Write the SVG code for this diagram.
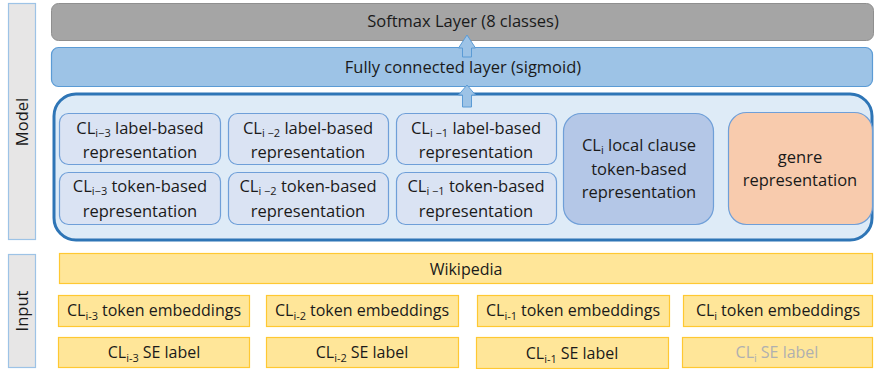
<svg xmlns="http://www.w3.org/2000/svg" width="874" height="369" viewBox="0 0 874 369">
<defs>
<style>
text{font-family:"Open Sans","Noto Sans","Liberation Sans",sans-serif;fill:#1a1a1a;text-anchor:middle}
.t16{font-size:16.5px}
.ty{font-size:16px}
.sub{font-size:11px}
.side{fill:#e7e6e6;stroke:#9dc3e6;stroke-width:1.2}
.small{fill:#dae3f3;stroke:#6f9fd8;stroke-width:1.2}
.yel{fill:#ffe699;stroke:#ffc832;stroke-width:1.2}
.arrow{fill:#9dc3e6;stroke:#5b9bd5;stroke-width:1}
</style>
</defs>
<rect width="874" height="369" fill="#ffffff"/>

<g id="model-label">
<rect class="side" x="8.5" y="3.5" width="27" height="236"/>
<text class="t16" transform="translate(28,122) rotate(-90)">Model</text>
</g>
<g id="input-label">
<rect class="side" x="8.5" y="254.5" width="27" height="113"/>
<text class="t16" transform="translate(28,311) rotate(-90)">Input</text>
</g>

<g id="softmax">
<rect x="51.5" y="3.5" width="822" height="37" rx="7" fill="#a5a5a5" stroke="#8f8f8f" stroke-width="1"/>
<text class="t16" x="463" y="27">Softmax Layer (8 classes)</text>
</g>
<g id="fc">
<rect x="51.5" y="47.5" width="821" height="39" rx="7" fill="#9dc3e6" stroke="#5b9bd5" stroke-width="1.2"/>
<text class="t16" x="463" y="73">Fully connected layer (sigmoid)</text>
</g>

<g id="model-container">
<rect x="54" y="94" width="818" height="146" rx="22" fill="#deebf7" stroke="#2e75b6" stroke-width="3"/>
</g>

<g id="connectors">
<path class="arrow" d="M467,35 L475.5,48 L471.5,48 L471.5,57 L462.5,57 L462.5,48 L458.5,48 Z"/>
<path class="arrow" d="M467,85 L475.5,95 L471.5,95 L471.5,107 L462.5,107 L462.5,95 L458.5,95 Z"/>
</g>

<g id="cl3-label">
<rect class="small" x="59.5" y="113.5" width="161" height="51" rx="9"/>
<text class="t16" x="140" y="134">CL<tspan class="sub" dy="3">i−3</tspan><tspan dy="-3"> label-based</tspan></text>
<text class="t16" x="140" y="158">representation</text>
</g>
<g id="cl2-label">
<rect class="small" x="228.5" y="113.5" width="160" height="51" rx="9"/>
<text class="t16" x="308" y="134">CL<tspan class="sub" dy="3">i −2</tspan><tspan dy="-3"> label-based</tspan></text>
<text class="t16" x="308" y="158">representation</text>
</g>
<g id="cl1-label">
<rect class="small" x="396.5" y="113.5" width="160" height="51" rx="9"/>
<text class="t16" x="476" y="134">CL<tspan class="sub" dy="3">i −1</tspan><tspan dy="-3"> label-based</tspan></text>
<text class="t16" x="476" y="158">representation</text>
</g>
<g id="cl3-token">
<rect class="small" x="59.5" y="172.5" width="161" height="52" rx="9"/>
<text class="t16" x="140" y="192">CL<tspan class="sub" dy="3">i−3</tspan><tspan dy="-3"> token-based</tspan></text>
<text class="t16" x="140" y="217">representation</text>
</g>
<g id="cl2-token">
<rect class="small" x="228.5" y="172.5" width="160" height="52" rx="9"/>
<text class="t16" x="308" y="192">CL<tspan class="sub" dy="3">i −2</tspan><tspan dy="-3"> token-based</tspan></text>
<text class="t16" x="308" y="217">representation</text>
</g>
<g id="cl1-token">
<rect class="small" x="396.5" y="172.5" width="160" height="52" rx="9"/>
<text class="t16" x="476" y="192">CL<tspan class="sub" dy="3">i −1</tspan><tspan dy="-3"> token-based</tspan></text>
<text class="t16" x="476" y="217">representation</text>
</g>
<g id="cli-local">
<rect x="563.5" y="113.5" width="150" height="111" rx="18" fill="#b4c7e7" stroke="#6f9fd8" stroke-width="1.2"/>
<text class="t16" x="639" y="151">CL<tspan class="sub" dy="3">i</tspan><tspan dy="-3"> local clause</tspan></text>
<text class="t16" x="639" y="175">token-based</text>
<text class="t16" x="639" y="198">representation</text>
</g>
<g id="genre">
<rect x="728.5" y="112.5" width="144" height="112" rx="18" fill="#f8cbad" stroke="#6f9fd8" stroke-width="1.2"/>
<text class="t16" x="800" y="163">genre</text>
<text class="t16" x="800" y="186">representation</text>
</g>

<g id="wikipedia">
<rect class="yel" x="59.5" y="253.5" width="813" height="30"/>
<text class="ty" x="466" y="275">Wikipedia</text>
</g>

<g id="cl3-emb">
<rect class="yel" x="58.5" y="295.5" width="191" height="31"/>
<text class="ty" x="154" y="316">CL<tspan class="sub" dy="4">i-3</tspan><tspan dy="-4" dx="4">token embeddings</tspan></text>
</g>
<g id="cl2-emb">
<rect class="yel" x="266.5" y="295.5" width="192" height="31"/>
<text class="ty" x="362" y="316">CL<tspan class="sub" dy="4">i-2</tspan><tspan dy="-4" dx="4">token embeddings</tspan></text>
</g>
<g id="cl1-emb">
<rect class="yel" x="477.5" y="295.5" width="192" height="31"/>
<text class="ty" x="573" y="316">CL<tspan class="sub" dy="4">i-1</tspan><tspan dy="-4" dx="4">token embeddings</tspan></text>
</g>
<g id="cli-emb">
<rect class="yel" x="683.5" y="295.5" width="189" height="31"/>
<text class="ty" x="778" y="316">CL<tspan class="sub" dy="4">i</tspan><tspan dy="-4" dx="4">token embeddings</tspan></text>
</g>

<g id="cl3-se">
<rect class="yel" x="58.5" y="337.5" width="191" height="30"/>
<text class="ty" x="154" y="358">CL<tspan class="sub" dy="4">i-3</tspan><tspan dy="-4" dx="4">SE label</tspan></text>
</g>
<g id="cl2-se">
<rect class="yel" x="266.5" y="337.5" width="192" height="30"/>
<text class="ty" x="362" y="358">CL<tspan class="sub" dy="4">i-2</tspan><tspan dy="-4" dx="4">SE label</tspan></text>
</g>
<g id="cl1-se">
<rect class="yel" x="476.5" y="337.5" width="192" height="31"/>
<text class="ty" x="572" y="359">CL<tspan class="sub" dy="4">i-1</tspan><tspan dy="-4" dx="4">SE label</tspan></text>
</g>
<g id="cli-se">
<rect class="yel" x="682.5" y="337.5" width="190" height="30"/>
<text class="ty" x="777" y="358" style="fill:#b0b0b0">CL<tspan class="sub" dy="4">i</tspan><tspan dy="-4" dx="4">SE label</tspan></text>
</g>
</svg>
